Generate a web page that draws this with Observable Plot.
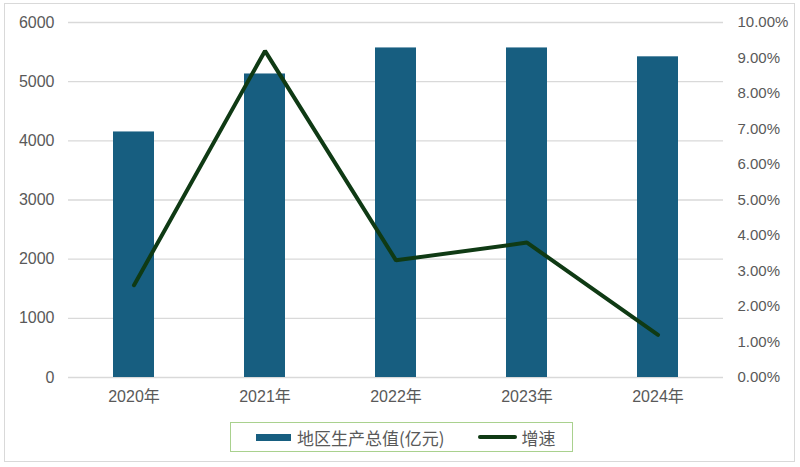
<!DOCTYPE html>
<html>
<head>
<meta charset="utf-8">
<script src="https://cdn.jsdelivr.net/npm/d3@7"></script>
<script src="https://cdn.jsdelivr.net/npm/@observablehq/plot@0.6"></script>
<style>
  html, body { margin: 0; padding: 0; background: #fff; }
  #wrap { position: relative; width: 800px; height: 467px; font-family: "Liberation Sans", "Noto Sans CJK SC", sans-serif; }
  #frame { position: absolute; left: 4px; top: 3px; width: 789px; height: 457px; border: 1.5px solid #d9d9d9; pointer-events: none; }
  #legend { position: absolute; left: 230px; top: 422px; width: 341px; height: 28px; border: 1.5px solid #a9d18e; box-sizing: content-box;
            display: flex; align-items: center; font-size: 17px; color: #595959; font-family: "Noto Sans CJK SC", sans-serif; }
  .sw-bar { display: inline-block; width: 35px; height: 7px; background: #175e80; margin-left: 25px; margin-right: 6px; }
  .sw-line { display: inline-block; width: 39px; height: 4px; background: #0f3a14; border-radius: 2px; margin-left: 33px; margin-right: 5px; }
</style>
</head>
<body>
<div id="wrap">
  <div id="chart"></div>
  <div id="legend"><span class="sw-bar"></span><span>地区生产总值(亿元)</span><span class="sw-line"></span><span>增速</span></div>
  <div id="frame"></div>
</div>
<script>
const years = ["2020年", "2021年", "2022年", "2023年", "2024年"];
const gdp = [4150, 5130, 5570, 5570, 5420];
const growth = [0.026, 0.092, 0.033, 0.038, 0.012];
const leftTicks = [0, 1000, 2000, 3000, 4000, 5000, 6000];
const rightTicks = [0, 0.01, 0.02, 0.03, 0.04, 0.05, 0.06, 0.07, 0.08, 0.09, 0.10];

const yMax = 6000, rMax = 0.10;
const toY = r => r / rMax * yMax;

const data = years.map((y, i) => ({year: y, gdp: gdp[i], growth: growth[i]}));

const chart = Plot.plot({
  width: 800,
  height: 415,
  marginTop: 22,
  marginBottom: 38,
  marginLeft: 68,
  marginRight: 77,
  style: {fontFamily: "'Liberation Sans', 'Noto Sans CJK SC', sans-serif", fontSize: "15px", color: "#595959", background: "transparent"},
  x: {domain: years, paddingInner: 0.69, paddingOuter: 0.345, label: null},
  y: {domain: [0, yMax], label: null},
  marks: [
    Plot.ruleY(leftTicks, {stroke: "#d9d9d9", strokeWidth: 1.3}),
    Plot.barY(data, {x: "year", y: "gdp", fill: "#175e80"}),
    Plot.line(data, {x: "year", y: d => toY(d.growth), stroke: "#0f3a14", strokeWidth: 4, strokeLinejoin: "miter", strokeLinecap: "round"}),
    Plot.axisY(leftTicks, {anchor: "left", tickSize: 0, tickPadding: 14, label: null, tickFormat: d => String(d), fontSize: 16, fill: "#595959"}),
    Plot.axisY(rightTicks.map(toY), {anchor: "right", tickSize: 0, tickPadding: 14, label: null, tickFormat: d => (d / yMax * rMax * 100).toFixed(2) + "%", fontSize: 15, fill: "#595959"}),
    Plot.axisX(years, {anchor: "bottom", tickSize: 0, tickPadding: 13, label: null, fontSize: 16, fill: "#595959"})
  ]
});
document.getElementById("chart").appendChild(chart);
</script>
</body>
</html>
